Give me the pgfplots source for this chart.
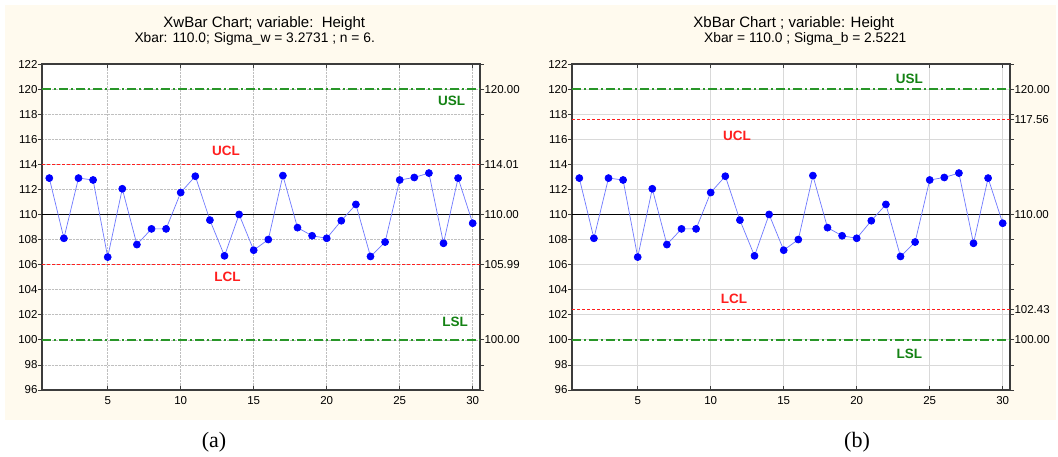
\documentclass[border=0pt]{standalone}
\usepackage{pgfplots}
\pgfplotsset{compat=1.18}
\usepackage{pgfplotstable}
\usepackage{fontspec}
\setmainfont{Liberation Sans}
\newfontfamily\capfont{Liberation Serif}
\definecolor{bgc}{RGB}{255,250,238}
\definecolor{dataline}{RGB}{110,120,255}
\definecolor{slgreen}{RGB}{40,150,40}
\definecolor{sltext}{RGB}{20,130,20}
\definecolor{clred}{RGB}{255,30,30}
\definecolor{frame}{RGB}{60,60,60}
\pgfplotstableread{
x y
1 112.9
2 108.1
3 112.9
4 112.75
5 106.6
6 112.05
7 107.6
8 108.85
9 108.85
10 111.75
11 113.05
12 109.55
13 106.7
14 110.0
15 107.15
16 108.0
17 113.1
18 108.95
19 108.3
20 108.1
21 109.5
22 110.8
23 106.65
24 107.8
25 112.75
26 112.95
27 113.3
28 107.7
29 112.9
30 109.3
}\heightdata
\tikzset{
  uslline/.style={draw=slgreen, line width=1.4pt, dash pattern=on 9pt off 3pt on 2pt off 3pt},
  clline/.style={draw=clred, line width=1.1pt, dash pattern=on 3pt off 2pt},
  lbl/.style={font=\fontsize{13.5}{15}\selectfont\bfseries},
}
\pgfplotsset{
  ccbase/.style={
    width=438pt, height=326pt, scale only axis,
    xmin=0.5, xmax=30.5, ymin=96, ymax=122,
    axis line style={frame, line width=1.2pt},
    major tick length=4pt,
    tick style={frame, line width=0.8pt},
    ticklabel style={font=\fontsize{11.5}{13}\selectfont, text=black},
    /pgf/number format/assume math mode=true,
  },
  ccmain/.style={
    ccbase,
    xtick={5,10,...,30}, ytick={96,98,...,122},
    xtick pos=both, ytick pos=left, tick align=inside,
    ytick style={xshift=-4pt},
    xticklabel style={yshift=-3pt},
    yticklabel style={xshift=-1pt},
    grid=major,
    axis background/.style={fill=white},
  },
  ccright/.style={
    ccbase,
    hide x axis, axis y line*=right,
    tick align=inside,
    ytick style={xshift=4pt},
    yticklabel pos=right,
    yticklabel style={xshift=1pt},
  },
}
\begin{document}
\begin{tikzpicture}
\path (0,0) rectangle (1058pt,-457pt);
\fill[bgc] (5pt,-5pt) rectangle (1056pt,-420pt);
% titles
\node[anchor=base, font=\fontsize{15}{18}\selectfont] at (264.3pt,-27.5pt) {XwBar Chart; variable:\ \ Height};
\node[anchor=base, font=\fontsize{13.8}{16}\selectfont] at (254.7pt,-43pt) {Xbar: 110.0; Sigma\_w = 3.2731 ; n = 6.};
\node[anchor=base, font=\fontsize{15}{18}\selectfont] at (793.8pt,-27.5pt) {XbBar Chart ; variable: Height};
\node[anchor=base, font=\fontsize{13.8}{16}\selectfont] at (805.3pt,-43pt) {Xbar = 110.0 ; Sigma\_b = 2.5221};
% captions
\node[anchor=base, font=\capfont\fontsize{22}{24}\selectfont] at (214pt,-447pt) {(a)};
\node[anchor=base, font=\capfont\fontsize{22}{24}\selectfont] at (857pt,-447pt) {(b)};

% ---------- panel (a)
\begin{axis}[ccright, at={(42pt,-390pt)}, anchor=south west,
  ytick={96,98,100,102,104,105.99,108,110,112,114.01,116,118,120,122},
  yticklabels={,,100.00,,,105.99,,110.00,,114.01,,,120.00,}]
\end{axis}
\begin{axis}[ccmain, at={(42pt,-390pt)}, anchor=south west,
  grid style={densely dotted, gray!50, line width=0.6pt}]
\addplot[uslline] coordinates {(0.5,120) (30.5,120)};
\addplot[uslline] coordinates {(0.5,100) (30.5,100)};
\addplot[clline] coordinates {(0.5,114.01) (30.5,114.01)};
\addplot[clline] coordinates {(0.5,105.99) (30.5,105.99)};
\addplot[black, line width=1pt] coordinates {(0.5,110) (30.5,110)};
\addplot[dataline, line width=0.7pt, mark=*, mark size=3.5pt,
  mark options={fill=blue, draw=blue, solid}] table[x=x,y=y] {\heightdata};
\node[lbl, text=clred] at (axis cs:13.1,115.1) {UCL};
\node[lbl, text=clred] at (axis cs:13.2,105.0) {LCL};
\node[lbl, text=sltext] at (axis cs:28.55,119.1) {USL};
\node[lbl, text=sltext] at (axis cs:28.8,101.4) {LSL};
\end{axis}

% ---------- panel (b)
\begin{axis}[ccright, at={(572pt,-390pt)}, anchor=south west,
  ytick={96,98,100,102,102.43,104,106,108,110,112,114,116,117.56,118,120,122},
  yticklabels={,,100.00,,102.43,,,,110.00,,,,117.56,,120.00,}]
\end{axis}
\begin{axis}[ccmain, at={(572pt,-390pt)}, anchor=south west,
  grid style={gray!30, line width=0.8pt}]
\addplot[uslline] coordinates {(0.5,120) (30.5,120)};
\addplot[uslline] coordinates {(0.5,100) (30.5,100)};
\addplot[black, line width=1pt] coordinates {(0.5,110) (30.5,110)};
\addplot[dataline, line width=0.7pt, mark=*, mark size=3.5pt,
  mark options={fill=blue, draw=blue, solid}] table[x=x,y=y] {\heightdata};
\addplot[clline] coordinates {(0.5,117.56) (30.5,117.56)};
\addplot[clline] coordinates {(0.5,102.43) (30.5,102.43)};
\node[lbl, text=clred] at (axis cs:11.8,116.3) {UCL};
\node[lbl, text=clred] at (axis cs:11.6,103.3) {LCL};
\node[lbl, text=sltext] at (axis cs:23.6,120.85) {USL};
\node[lbl, text=sltext] at (axis cs:23.6,98.9) {LSL};
\end{axis}
\end{tikzpicture}
\end{document}
